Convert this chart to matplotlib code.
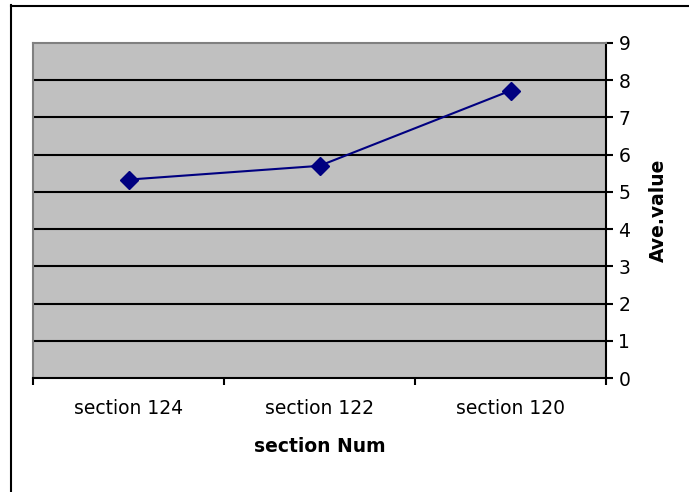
import matplotlib
matplotlib.use("Agg")
import matplotlib.pyplot as plt
from matplotlib.lines import Line2D
import numpy as np

categories = ["section 124", "section 122", "section 120"]
values = [5.33, 5.70, 7.72]
y_ticks = [0, 1, 2, 3, 4, 5, 6, 7, 8, 9]

W, H = 689, 492
fig = plt.figure(figsize=(W / 100, H / 100), dpi=100)
fig.patch.set_facecolor("white")

L, R, T, B = 33, 606, 43, 378
ax = fig.add_axes([L / W, 1 - B / H, (R - L) / W, (B - T) / H])
ax.set_facecolor("#C0C0C0")

x = np.arange(len(categories)) + 0.5
ax.plot(x, values, color="#000080", lw=1.5, marker="D", ms=9,
        markerfacecolor="#000080", markeredgecolor="#000080", zorder=5)

ax.set_xlim(0, len(categories))
ax.set_ylim(0, 9)

# grid
for v in y_ticks[1:-1]:
    ax.axhline(v, color="black", lw=1.5, zorder=1)

# spines
for s in ["top", "left"]:
    ax.spines[s].set_color("#808080")
    ax.spines[s].set_linewidth(1.5)
for s in ["bottom", "right"]:
    ax.spines[s].set_color("black")
    ax.spines[s].set_linewidth(1.5)

fs = 13.5
fam = "DejaVu Sans"
ax.yaxis.tick_right()
ax.set_yticks(y_ticks)
ax.set_yticklabels([str(v) for v in y_ticks], fontsize=fs, family=fam)
ax.tick_params(axis="y", which="major", direction="out", length=5, width=1.5,
               pad=4, colors="black", left=False)

ax.set_xticks(np.arange(len(categories) + 1))
ax.set_xticklabels([])
ax.set_xticks(x, minor=True)
ax.set_xticklabels(categories, minor=True, fontsize=fs, family=fam)
ax.tick_params(axis="x", which="major", direction="out", length=5, width=1.5)
ax.tick_params(axis="x", which="minor", length=0, pad=15)

ax.set_xlabel("section Num", fontsize=fs, fontweight="bold", family=fam)
ax.xaxis.set_label_coords(0.5, -0.176)

fig.text(658 / W, 1 - 210 / H, "Ave.value", rotation=90, ha="center",
         va="center", fontsize=fs, fontweight="bold", family=fam)

# outer chart frame
fig.add_artist(Line2D([10.5 / W, 10.5 / W], [0, 1 - 5 / H], color="black",
                      lw=1.5, transform=fig.transFigure))
fig.add_artist(Line2D([10.5 / W, 1], [1 - 5.5 / H, 1 - 5.5 / H], color="black",
                      lw=1.5, transform=fig.transFigure))

fig.savefig("out.png", dpi=100)
